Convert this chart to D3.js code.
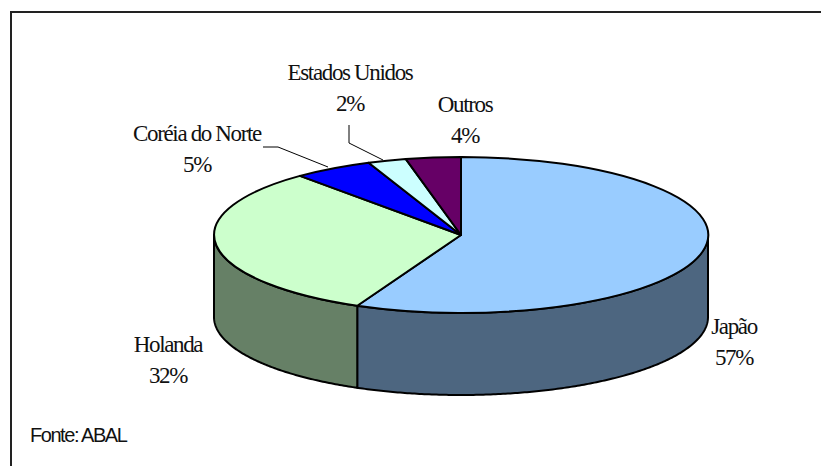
<!DOCTYPE html>
<html><head><meta charset="utf-8">
<script src="https://cdn.jsdelivr.net/npm/d3@7"></script>
<style>html,body{margin:0;background:#fff}svg{display:block}
text{font-family:"Liberation Serif",serif;font-size:23px;letter-spacing:-1.35px;fill:#111;text-anchor:middle}
</style></head><body><svg id="c" width="821" height="466"></svg>
<script>
const categories=["Japão","Holanda","Coréia do Norte","Estados Unidos","Outros"];
const values=[56.9,31.8,5.2,2.5,3.6];
const percentLabels=["57%","32%","5%","2%","4%"];
const topColors=["#99CCFF","#CCFFCC","#0000FF","#CCFFFF","#660066"];
const sideColors=["#4D6680","#668066","#000080","#668080","#330033"];
const labelPos=[[734,327],[168,345],[197,134],[350,73],[465,105]];
const leaders=[[[263,147],[278,147],[328,167]],[[349,125],[349,143],[383,160]]];

const W=821,H=466,cx=461,cy=235,rx=247,ry=78,depth=82;
const svg=d3.select("#c");
svg.append("path").attr("d",d3.line()([[11,H],[11,12],[W,12]])).attr("fill","none").attr("stroke","#222").attr("stroke-width",2);
const x=d3.scaleLinear().domain([-1,1]).range([cx-rx,cx+rx]);
const y=d3.scaleLinear().domain([-1,1]).range([cy-ry,cy+ry]);
const arcs=d3.pie().sort(null)(values);
const unit=d3.arc().innerRadius(0).outerRadius(1);

const line=d3.line();
const px=a=>x(Math.sin(a)),py=a=>y(-Math.cos(a));
arcs.forEach((d,i)=>{
  const a0=Math.max(d.startAngle,Math.PI/2),a1=Math.min(d.endAngle,3*Math.PI/2);
  if(a1<=a0)return;
  const as=d3.range(a0,a1,0.01).concat([a1]);
  const pts=as.map(a=>[px(a),py(a)]).concat(as.slice().reverse().map(a=>[px(a),py(a)+depth]));
  svg.append("path").attr("d",line(pts)+"Z").attr("fill",sideColors[i]).attr("stroke","#000").attr("stroke-width",2).attr("stroke-linejoin","round");
});
const g=svg.append("g").attr("transform",`translate(${cx},${cy}) scale(${rx},${ry})`);
g.selectAll("path").data(arcs).join("path").attr("d",unit)
 .attr("fill",(d,i)=>topColors[i]).attr("stroke","#000").attr("stroke-width",2)
 .attr("vector-effect","non-scaling-stroke").attr("stroke-linejoin","round");
leaders.forEach(l=>svg.append("path").attr("d",line(l)).attr("fill","none").attr("stroke","#000").attr("stroke-width",1));
categories.forEach((c,i)=>{
  const t=svg.append("text").attr("x",labelPos[i][0]).attr("y",labelPos[i][1]+7);
  t.append("tspan").attr("x",labelPos[i][0]).text(c);
  t.append("tspan").attr("x",labelPos[i][0]).attr("dy",31).text(percentLabels[i]);
});
svg.append("text").attr("x",30).attr("y",442).style("text-anchor","start")
 .style("font-family","'Liberation Sans',sans-serif").style("font-size","20px").style("letter-spacing","-1.45px").text("Fonte: ABAL");
</script></body></html>
